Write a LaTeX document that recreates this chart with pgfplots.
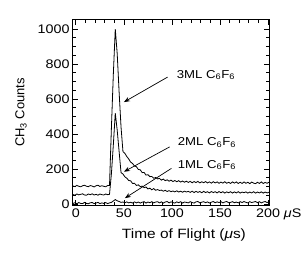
\documentclass[border=0pt]{standalone}
\usepackage{fontspec}
\setmainfont{Liberation Sans}[FakeStretch=1.15]
\newfontfamily\plainsans{Liberation Sans}
\usepackage{pgfplots}
\pgfplotsset{compat=1.18}
\usetikzlibrary{arrows.meta}

\begin{document}
\begin{tikzpicture}
\useasboundingbox (-73bp,-50bp) rectangle (234bp,205bp);
\begin{axis}[
  at={(0,0)}, anchor=south west,
  scale only axis, width=196bp, height=185bp,
  xmin=-3, xmax=201, ymin=-5, ymax=1052,
  xtick={0,50,100,150,200},
  xticklabels={0,50,100,150,{200\rlap{ \textit{μ}S}}},
  ytick={0,200,400,600,800,1000},
  yticklabels={0,200,400,600,800,1000},
  minor x tick num=4, minor y tick num=3,
  major tick length=5bp, minor tick length=2.8bp,
  tick style={black, line width=0.8bp},
  axis line style={line width=1bp},
  tick label style={font=\fontsize{12.5}{14}\selectfont},
  xlabel={Time of Flight (\textit{μ}s)},
  xlabel style={at={(axis description cs:0.566,0)}, anchor=base, yshift=-33bp, font=\fontsize{13.5}{15}\selectfont},
  ylabel={CH\textsubscript{3} Counts},
  ylabel style={at={(axis description cs:-0.265,0.5)}, anchor=center, font=\plainsans\fontsize{13}{15}\selectfont},
  clip=false,
]
% 3ML
\addplot[black, line width=0.8bp, mark=none, sharp plot] coordinates {
(-3,104) (-1,100) (1,107) (3,102) (5,99) (7,105) (9,108) (11,102) (13,100) (15,106)
(17,103) (19,98) (21,105) (23,108) (25,101) (27,105) (29,102) (31,99) (33,106) (35,106)
(37,440) (39,745) (41,1000) (43,860) (45,640) (47,440) (49,300) (51,290) (53,272) (55,258)
(57,240) (59,232) (61,218) (63,214) (65,198) (67,196) (69,180) (71,181) (73,166) (75,168)
(77,157) (79,158) (81,148) (83,152) (85,144) (87,147) (89,137) (91,143) (93,134) (95,139)
(97,131) (99,137) (101,129) (103,135) (105,128) (107,134) (109,126) (111,132) (113,125) (115,131)
(117,124) (119,130) (121,122) (123,129) (125,123) (127,130) (129,121) (131,128) (133,122) (135,129)
(137,121) (139,127) (141,120) (143,128) (145,121) (147,127) (149,119) (151,126) (153,120) (155,128)
(157,119) (159,125) (161,118) (163,127) (165,120) (167,127) (169,118) (171,125) (173,118) (175,127)
(177,119) (179,125) (181,117) (183,126) (185,120) (187,117) (189,125) (191,118) (193,127) (195,118)
(197,124) (199,119) (201,125)
};
% 2ML
\addplot[black, line width=0.8bp, mark=none, sharp plot] coordinates {
(-3,55) (-1,51) (1,58) (3,53) (5,56) (7,59) (9,52) (11,51) (13,58) (15,54)
(17,59) (19,52) (21,56) (23,51) (25,58) (27,54) (29,52) (31,58) (33,54) (35,56)
(37,175) (39,340) (41,520) (43,423) (45,300) (47,180) (49,172) (51,156) (53,148) (55,135)
(57,133) (59,118) (61,119) (63,107) (65,110) (67,100) (69,103) (71,94) (73,98) (75,87)
(77,91) (79,82) (81,89) (83,79) (85,83) (87,78) (89,80) (91,74) (93,79) (95,72)
(97,77) (99,71) (101,75) (103,70) (105,76) (107,69) (109,74) (111,68) (113,74) (115,69)
(117,73) (119,67) (121,74) (123,66) (125,73) (127,67) (129,72) (131,65) (133,73) (135,66)
(137,71) (139,64) (141,72) (143,66) (145,71) (147,64) (149,72) (151,65) (153,71) (155,63)
(157,70) (159,65) (161,71) (163,63) (165,70) (167,64) (169,71) (171,63) (173,69) (175,65)
(177,70) (179,63) (181,69) (183,64) (185,71) (187,63) (189,69) (191,64) (193,70) (195,63)
(197,69) (199,64) (201,68)
};
% 1ML
\addplot[black, line width=0.8bp, mark=none, sharp plot] coordinates {
(-3,4) (-1,8) (1,2) (3,9) (5,4) (7,3) (9,10) (11,4) (13,2) (15,8)
(17,9) (19,3) (21,6) (23,10) (25,3) (27,7) (29,4) (31,9) (33,3) (35,7)
(37,10) (39,18) (41,26) (43,19) (45,15) (47,10) (49,12) (51,8) (53,13) (55,7)
(57,11) (59,6) (61,13) (63,7) (65,12) (67,6) (69,11) (71,14) (73,6) (75,12)
(77,8) (79,14) (81,7) (83,12) (85,14) (87,7) (89,13) (91,6) (93,12) (95,15)
(97,7) (99,13) (101,9) (103,6) (105,13) (107,8) (109,14) (111,6) (113,12) (115,10)
(117,7) (119,14) (121,9) (123,6) (125,13) (127,15) (129,7) (131,11) (133,14) (135,8)
(137,13) (139,6) (141,11) (143,15) (145,8) (147,13) (149,9) (151,14) (153,7) (155,12)
(157,15) (159,8) (161,10) (163,14) (165,8) (167,12) (169,7) (171,14) (173,9) (175,15)
(177,10) (179,7) (181,14) (183,9) (185,12) (187,15) (189,8) (191,14) (193,7) (195,12)
(197,15) (199,9) (201,14)
};
\draw[-{Stealth[length=6bp,width=4.5bp]}, line width=0.7bp] (axis cs:95.5,726) -- (axis cs:50,583);
\draw[-{Stealth[length=6bp,width=4.5bp]}, line width=0.7bp] (axis cs:97.6,327) -- (axis cs:50,185);
\draw[-{Stealth[length=6bp,width=4.5bp]}, line width=0.7bp] (axis cs:99.4,204) -- (axis cs:51,34);
\node[anchor=west, inner sep=0pt, font=\fontsize{11.5}{13}\selectfont] at (axis cs:104.9,737) {3ML C\textsubscript{6}F\textsubscript{6}};
\node[anchor=west, inner sep=0pt, font=\fontsize{11.5}{13}\selectfont] at (axis cs:105.9,350) {2ML C\textsubscript{6}F\textsubscript{6}};
\node[anchor=west, inner sep=0pt, font=\fontsize{11.5}{13}\selectfont] at (axis cs:105.9,223) {1ML C\textsubscript{6}F\textsubscript{6}};
\end{axis}
\end{tikzpicture}
\end{document}
